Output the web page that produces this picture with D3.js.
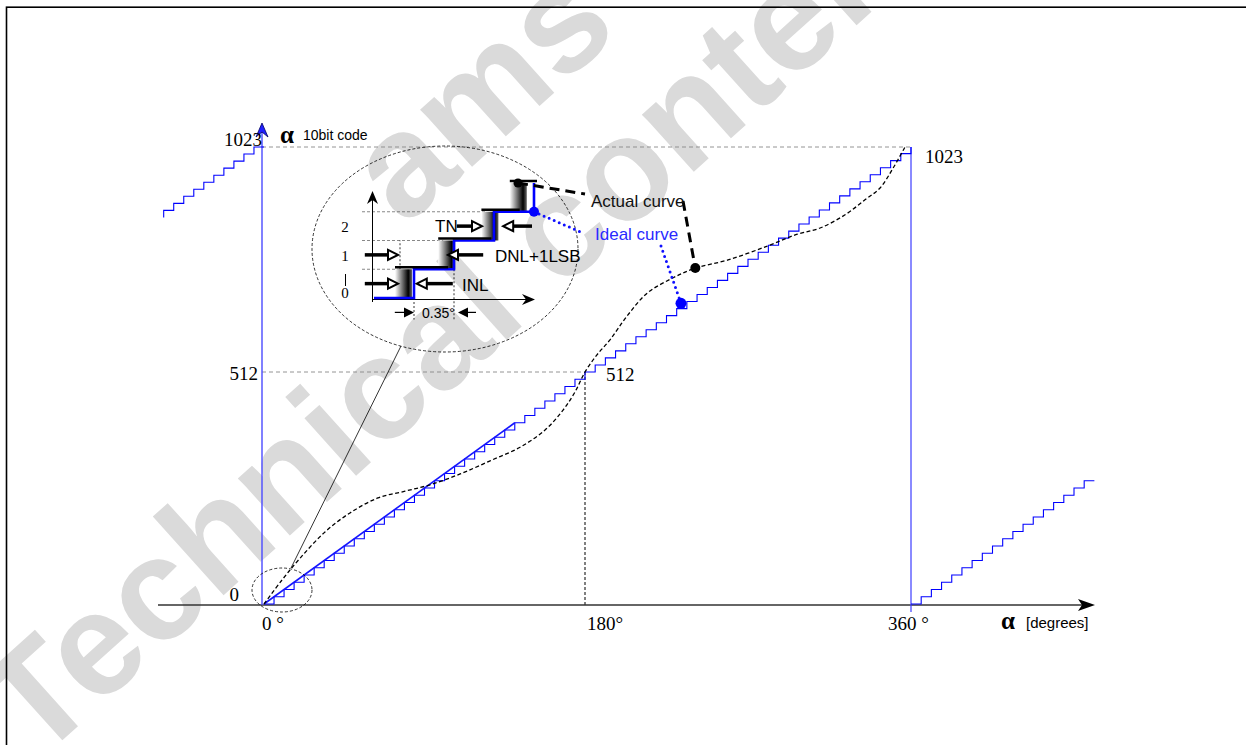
<!DOCTYPE html>
<html lang="en">
<head>
  <meta charset="UTF-8">
  <title>Angle code transfer: INL, DNL, TN</title>
  <style>
    body { margin: 0; background: #fff; }
    svg { display: block; }
    .serif { font-family: "Liberation Serif", "Times New Roman", serif; }
    .sans { font-family: "Liberation Sans", Arial, sans-serif; }
  </style>
</head>
<body>
  <svg id="chart"></svg>
  <script src="https://cdn.jsdelivr.net/npm/d3@7/dist/d3.min.js"></script>
  <script>
    // ideal transfer (64 drawn steps of 16 codes, 5.625 deg each)
    var idealAngles = [0, 5.625, 11.25, 16.875, 22.5, 28.125, 33.75, 39.375, 45, 50.625, 56.25, 61.875,
      67.5, 73.125, 78.75, 84.375, 90, 95.625, 101.25, 106.875, 112.5, 118.125, 123.75, 129.375, 135,
      140.625, 146.25, 151.875, 157.5, 163.125, 168.75, 174.375, 180, 185.625, 191.25, 196.875, 202.5,
      208.125, 213.75, 219.375, 225, 230.625, 236.25, 241.875, 247.5, 253.125, 258.75, 264.375, 270,
      275.625, 281.25, 286.875, 292.5, 298.125, 303.75, 309.375, 315, 320.625, 326.25, 331.875, 337.5,
      343.125, 348.75, 354.375, 360];
    var idealCodes = [0, 16, 32, 48, 64, 80, 96, 112, 128, 144, 160, 176, 192, 208, 224, 240, 256, 272,
      288, 304, 320, 336, 352, 368, 384, 400, 416, 432, 448, 464, 480, 496, 512, 528, 544, 560, 576, 592,
      608, 624, 640, 656, 672, 688, 704, 720, 736, 752, 768, 784, 800, 816, 832, 848, 864, 880, 896, 912,
      928, 944, 960, 976, 992, 1008, 1023];
    // wrap-around parts before 0 deg and after 360 deg
    var wrapLeftAngles = [-56.25, -56.25, -50.625, -45, -39.375, -33.75, -28.125, -22.5, -16.875, -11.25, -5.625, 0];
    var wrapLeftCodes = [863, 879, 895, 911, 927, 943, 959, 975, 991, 1007, 1023, 1023];
    var wrapRightAngles = [360, 365.625, 371.25, 376.875, 382.5, 388.125, 393.75, 399.375, 405, 410.625,
      416.25, 421.875, 427.5, 433.125, 438.75, 444.375, 450, 455.625, 461.25];
    var wrapRightCodes = [0, 16, 32, 48, 64, 80, 96, 112, 128, 144, 160, 176, 192, 208, 224, 240, 256, 272, 272];
    // straight ideal line drawn over the lower part
    var idealLineAngles = [0, 140.625];
    var idealLineCodes = [0, 400];

    // actual (non-linear) curve
    var actualAngles = [0, 10.1, 20.2, 34.2, 48.2, 63.9, 79.1, 93.1, 110, 126.8, 143.6, 157.6, 167.7, 174.4,
      180, 186.6, 193.8, 203.2, 214.3, 228.2, 240.9, 258.6, 280.7, 297.3, 309.8, 323.6, 334.6, 342.9, 350.1, 356.7];
    var actualCodes = [0, 53, 101, 159, 201, 234, 249, 263, 287, 316, 346, 384, 428, 468,
      512, 551, 585, 639, 691, 725, 748, 766, 798, 825, 839, 869, 903, 930, 975, 1023];

    var actualMark = [240.9, 748];
    var idealMark = [233, 668];

    var xTickAngles = [0, 180, 360];
    var xTickLabels = ["0 °", "180°", "360 °"];
    var yTickCodes = [0, 512, 1023];
    var yTickLabels = ["0", "512", "1023"];

    // zoomed inset (units of 1 LSB)
    var insetIdeal = [[0, 0], [1, 1], [2, 2], [3, 3], [4, 4]];
    var insetActualEdges = [0.65, 1.73, 2.81, 3.52];
    var insetLevelLabels = ["0", "1", "2"];
    var insetActualMark = [3.6, 4];
    var insetIdealMark = [4, 3];

    var W = 1246, H = 745;
    var svg = d3.select('#chart').attr('width', W).attr('height', H);

    var x = d3.scaleLinear().domain([0, 180, 360]).range([264, 585, 911]);
    var y = d3.scaleLinear().domain([0, 512, 1023]).range([604, 372, 147]);
    var ix = d3.scaleLinear().domain([0, 4]).range([374, 534]);
    var iy = d3.scaleLinear().domain([0, 4]).range([298, 183]);

    function pairs(a, c) { return a.map(function (v, i) { return [v, c[i]]; }); }

    var defs = svg.append('defs');
    var grad = defs.append('linearGradient').attr('id', 'tnShade')
      .attr('x1', '0').attr('x2', '1').attr('y1', '0').attr('y2', '0');
    grad.append('stop').attr('offset', '0%').attr('stop-color', '#fff');
    grad.append('stop').attr('offset', '78%').attr('stop-color', '#000');
    grad.append('stop').attr('offset', '100%').attr('stop-color', '#666');

    // watermark
    var wm = svg.append('g').attr('transform', 'translate(37,763) rotate(-42)')
      .attr('class', 'sans').attr('font-weight', 'bold').attr('font-size', 146).attr('fill', '#dadada');
    wm.append('text').attr('x', 0).attr('y', 0).text('Technical content');
    wm.append('text').attr('x', 631).attr('y', -152).text('ams');

    // frame
    svg.append('rect').attr('x', 6.5).attr('y', 7.2).attr('width', 1400).attr('height', 900)
      .attr('fill', 'none').attr('stroke', '#000').attr('stroke-width', 1.6);

    // guide lines
    svg.append('line').attr('x1', x(0) - 2).attr('x2', x(360)).attr('y1', y(1023)).attr('y2', y(1023))
      .attr('stroke', '#888').attr('stroke-width', 0.9).attr('stroke-dasharray', '4,3');
    svg.append('line').attr('x1', x(0) - 2).attr('x2', x(180)).attr('y1', y(512)).attr('y2', y(512))
      .attr('stroke', '#888').attr('stroke-width', 0.9).attr('stroke-dasharray', '4,3');
    svg.append('line').attr('x1', x(180)).attr('x2', x(180)).attr('y1', y(512)).attr('y2', y(0) + 1)
      .attr('stroke', '#000').attr('stroke-width', 1).attr('stroke-dasharray', '3,2');

    // x axis
    var xa = y(0) + 1;
    svg.append('line').attr('x1', 158).attr('x2', 1083).attr('y1', xa).attr('y2', xa)
      .attr('stroke', '#333').attr('stroke-width', 1.3);
    svg.append('path').attr('d', 'M1095,' + xa + 'L1078,' + (xa - 6) + 'L1082,' + xa + 'L1078,' + (xa + 6) + 'Z')
      .attr('fill', '#000');

    // y axis (blue) and 360 deg line
    var ya = x(0) - 2;
    svg.append('line').attr('x1', ya).attr('x2', ya).attr('y1', xa).attr('y2', 132)
      .attr('stroke', '#4a4aff').attr('stroke-width', 1.4);
    svg.append('path').attr('d', 'M' + ya + ',123L' + (ya - 6) + ',137L' + ya + ',132L' + (ya + 6) + ',137Z')
      .attr('fill', '#2020ff').attr('stroke', '#000060').attr('stroke-width', 0.8);
    svg.append('line').attr('x1', x(360)).attr('x2', x(360)).attr('y1', y(1023)).attr('y2', xa + 7)
      .attr('stroke', '#3c3cff').attr('stroke-width', 1.2);

    // ideal staircases
    var step = d3.line().x(function (d) { return x(d[0]); }).y(function (d) { return y(d[1]); })
      .curve(d3.curveStepAfter);
    [pairs(idealAngles, idealCodes), pairs(wrapLeftAngles, wrapLeftCodes), pairs(wrapRightAngles, wrapRightCodes)]
      .forEach(function (s) {
        svg.append('path').attr('d', step(s)).attr('fill', 'none')
          .attr('stroke', '#0000ff').attr('stroke-width', 1.1);
      });
    var straight = d3.line().x(function (d) { return x(d[0]); }).y(function (d) { return y(d[1]); });
    svg.append('path').attr('d', straight(pairs(idealLineAngles, idealLineCodes)))
      .attr('fill', 'none').attr('stroke', '#1515ff').attr('stroke-width', 1.6);

    // actual curve
    var smooth = d3.line().x(function (d) { return x(d[0]); }).y(function (d) { return y(d[1]); })
      .curve(d3.curveCatmullRom.alpha(0.5));
    svg.append('path').attr('d', smooth(pairs(actualAngles, actualCodes))).attr('fill', 'none')
      .attr('stroke', '#000').attr('stroke-width', 1.3).attr('stroke-dasharray', '4,2.5');

    // tick labels
    svg.selectAll('.ylab').data(yTickCodes).enter().append('text').attr('class', 'serif')
      .attr('x', function (d, i) { return [239, 258, 262][i]; })
      .attr('y', function (d, i) { return y(d) + [-3, 8, -1][i]; })
      .attr('text-anchor', 'end').attr('font-size', 19)
      .text(function (d, i) { return yTickLabels[i]; });
    svg.append('text').attr('class', 'serif').attr('x', x(180) + 21).attr('y', y(512) + 9)
      .attr('font-size', 19).text(yTickLabels[1]);
    svg.append('text').attr('class', 'serif').attr('x', x(360) + 14).attr('y', y(1023) + 16)
      .attr('font-size', 19).text(yTickLabels[2]);
    svg.selectAll('.xlab').data(xTickAngles).enter().append('text').attr('class', 'serif')
      .attr('x', function (d, i) { return x(d) + [-2, 2, -23][i]; })
      .attr('y', xa + 25).attr('font-size', 19)
      .text(function (d, i) { return xTickLabels[i]; });

    // axis titles
    svg.append('text').attr('class', 'serif').attr('x', 280).attr('y', 143)
      .attr('font-size', 25).attr('font-weight', 'bold').text('α');
    svg.append('text').attr('class', 'sans').attr('x', 303).attr('y', 140)
      .attr('font-size', 14).text('10bit code');
    svg.append('text').attr('class', 'serif').attr('x', 1001).attr('y', 629)
      .attr('font-size', 25).attr('font-weight', 'bold').text('α');
    svg.append('text').attr('class', 'sans').attr('x', 1026).attr('y', 628)
      .attr('font-size', 15).text('[degrees]');

    // zoom ellipses and connector
    svg.append('ellipse').attr('cx', 445).attr('cy', 249).attr('rx', 133).attr('ry', 103)
      .attr('fill', 'none').attr('stroke', '#000').attr('stroke-width', 0.8).attr('stroke-dasharray', '3,2');
    svg.append('ellipse').attr('cx', 282).attr('cy', 590).attr('rx', 30).attr('ry', 22)
      .attr('fill', 'none').attr('stroke', '#000').attr('stroke-width', 0.8).attr('stroke-dasharray', '3,2');
    svg.append('line').attr('x1', 291).attr('y1', 568).attr('x2', 401).attr('y2', 346)
      .attr('stroke', '#000').attr('stroke-width', 0.8);

    // ---- inset ----
    var g = svg.append('g');
    // dashed guides
    [[3, insetActualEdges[2]], [2, insetActualEdges[1]], [1, insetActualEdges[0]]].forEach(function (d) {
      g.append('line').attr('x1', 362).attr('x2', ix(d[1])).attr('y1', iy(d[0])).attr('y2', iy(d[0]))
        .attr('stroke', '#555').attr('stroke-width', 0.7).attr('stroke-dasharray', '3,2');
    });
    g.append('line').attr('x1', ix(insetActualEdges[0])).attr('x2', ix(insetActualEdges[0]))
      .attr('y1', iy(1)).attr('y2', iy(2)).attr('stroke', '#000').attr('stroke-width', 0.8).attr('stroke-dasharray', '2,2');
    g.append('line').attr('x1', ix(1)).attr('x2', ix(1)).attr('y1', iy(0)).attr('y2', iy(-0.75))
      .attr('stroke', '#000').attr('stroke-width', 0.8).attr('stroke-dasharray', '2,2');
    g.append('line').attr('x1', ix(2)).attr('x2', ix(2)).attr('y1', iy(1)).attr('y2', iy(-0.75))
      .attr('stroke', '#000').attr('stroke-width', 0.8).attr('stroke-dasharray', '2,2');

    // inset axes
    g.append('line').attr('x1', 372.5).attr('x2', 372.5).attr('y1', 302).attr('y2', 198)
      .attr('stroke', '#000').attr('stroke-width', 1);
    g.append('path').attr('d', 'M372.5,191L367,204L372.5,200L378,204Z').attr('fill', '#000');
    g.append('line').attr('x1', 372).attr('x2', 528).attr('y1', 299.5).attr('y2', 299.5)
      .attr('stroke', '#000').attr('stroke-width', 1);
    g.append('path').attr('d', 'M535,299.5L522,294L526,299.5L522,305Z').attr('fill', '#000');

    // actual steps: shaded transition blocks + top edges
    insetActualEdges.forEach(function (e, k) {
      g.append('rect').attr('x', ix(e) - 5).attr('y', iy(k + 1)).attr('width', 17)
        .attr('height', iy(k) - iy(k + 1)).attr('fill', 'url(#tnShade)');
    });
    // ideal inset steps
    var istep = d3.line().x(function (d) { return ix(d[0]); }).y(function (d) { return iy(d[1]); })
      .curve(d3.curveStepAfter);
    g.append('path').attr('d', istep(insetIdeal)).attr('fill', 'none')
      .attr('stroke', '#0000ff').attr('stroke-width', 2.6);
    insetActualEdges.forEach(function (e, k) {
      var xEnd = k < insetActualEdges.length - 1 ? ix(insetActualEdges[k + 1]) + 5 : ix(4) + 3;
      g.append('line').attr('x1', ix(e) - 5).attr('x2', xEnd).attr('y1', iy(k + 1) - 2).attr('y2', iy(k + 1) - 2)
        .attr('stroke', '#000').attr('stroke-width', 2.5);
    });

    // level labels
    g.selectAll('.lev').data(insetLevelLabels).enter().append('text').attr('class', 'serif')
      .attr('x', 345).attr('y', function (d, i) { return iy(i + 0.5) + [14, 6, 6][i]; })
      .attr('text-anchor', 'middle').attr('font-size', 15).text(function (d) { return d; });
    g.append('line').attr('x1', 345.5).attr('x2', 345.5).attr('y1', 274).attr('y2', 286)
      .attr('stroke', '#000').attr('stroke-width', 1);

    function hollowArrow(x1, x2, yy) {
      var dir = x2 > x1 ? 1 : -1, hl = 10, hw = 5;
      g.append('line').attr('x1', x1).attr('x2', x2 - dir * hl).attr('y1', yy).attr('y2', yy)
        .attr('stroke', '#000').attr('stroke-width', 3.5);
      g.append('path').attr('d', 'M' + x2 + ',' + yy + 'L' + (x2 - dir * hl) + ',' + (yy - hw) + 'L' + (x2 - dir * hl) + ',' + (yy + hw) + 'Z')
        .attr('fill', '#fff').attr('stroke', '#000').attr('stroke-width', 2);
    }
    function solidArrow(x1, x2, yy) {
      var dir = x2 > x1 ? 1 : -1, hl = 10, hw = 5;
      g.append('line').attr('x1', x1).attr('x2', x2 - dir * hl).attr('y1', yy).attr('y2', yy)
        .attr('stroke', '#000').attr('stroke-width', 1.2);
      g.append('path').attr('d', 'M' + x2 + ',' + yy + 'L' + (x2 - dir * hl) + ',' + (yy - hw) + 'L' + (x2 - dir * hl) + ',' + (yy + hw) + 'Z')
        .attr('fill', '#000');
    }
    // INL
    hollowArrow(ix(-0.23), ix(0.6), iy(0.5));
    hollowArrow(ix(1.97), ix(1.07), iy(0.5));
    // DNL
    hollowArrow(ix(-0.23), ix(0.6), iy(1.5));
    hollowArrow(ix(2.73), ix(1.85), iy(1.5));
    // TN
    hollowArrow(ix(2.07), ix(2.7), iy(2.5));
    hollowArrow(ix(3.95), ix(3.23), iy(2.5));
    // 1 LSB dimension
    solidArrow(ix(0.52), ix(1), iy(-0.5));
    solidArrow(ix(2.55), ix(2.1), iy(-0.5));

    g.append('text').attr('class', 'sans').attr('x', 435).attr('y', iy(2.5) + 6).attr('font-size', 17).text('TN');
    g.append('text').attr('class', 'sans').attr('x', 495).attr('y', iy(1.5) + 7).attr('font-size', 17).text('DNL+1LSB');
    g.append('text').attr('class', 'sans').attr('x', 462).attr('y', iy(0.5) + 7).attr('font-size', 17).text('INL');
    g.append('text').attr('class', 'sans').attr('x', 422).attr('y', iy(-0.5) + 6).attr('font-size', 14).text('0.35°');

    // leaders to the legend texts
    var aIn = [ix(insetActualMark[0]), iy(insetActualMark[1])];
    var bIn = [ix(insetIdealMark[0]), iy(insetIdealMark[1])];
    var aMain = [x(actualMark[0]), y(actualMark[1])];
    var bMain = [x(idealMark[0]), y(idealMark[1])];

    svg.append('path').attr('d', 'M' + aIn + 'L585,194M683,201L' + aMain)
      .attr('fill', 'none').attr('stroke', '#000').attr('stroke-width', 3).attr('stroke-dasharray', '10,6');
    svg.append('path').attr('d', 'M' + bIn + 'L583,233M661,246L' + bMain)
      .attr('fill', 'none').attr('stroke', '#1010ff').attr('stroke-width', 3)
      .attr('stroke-dasharray', '0,5.5').attr('stroke-linecap', 'round');

    svg.append('circle').attr('cx', aIn[0]).attr('cy', aIn[1]).attr('r', 4.5).attr('fill', '#000');
    svg.append('circle').attr('cx', bIn[0]).attr('cy', bIn[1]).attr('r', 5).attr('fill', '#0000ff');
    svg.append('circle').attr('cx', aMain[0]).attr('cy', aMain[1]).attr('r', 5).attr('fill', '#000');
    svg.append('circle').attr('cx', bMain[0]).attr('cy', bMain[1]).attr('r', 5.5).attr('fill', '#0000ff');

    svg.append('text').attr('class', 'sans').attr('x', 591).attr('y', 207).attr('font-size', 17)
      .attr('fill', '#111').text('Actual curve');
    svg.append('text').attr('class', 'sans').attr('x', 595).attr('y', 240).attr('font-size', 17)
      .attr('fill', '#2a2aff').text('Ideal curve');
  </script>
</body>
</html>
